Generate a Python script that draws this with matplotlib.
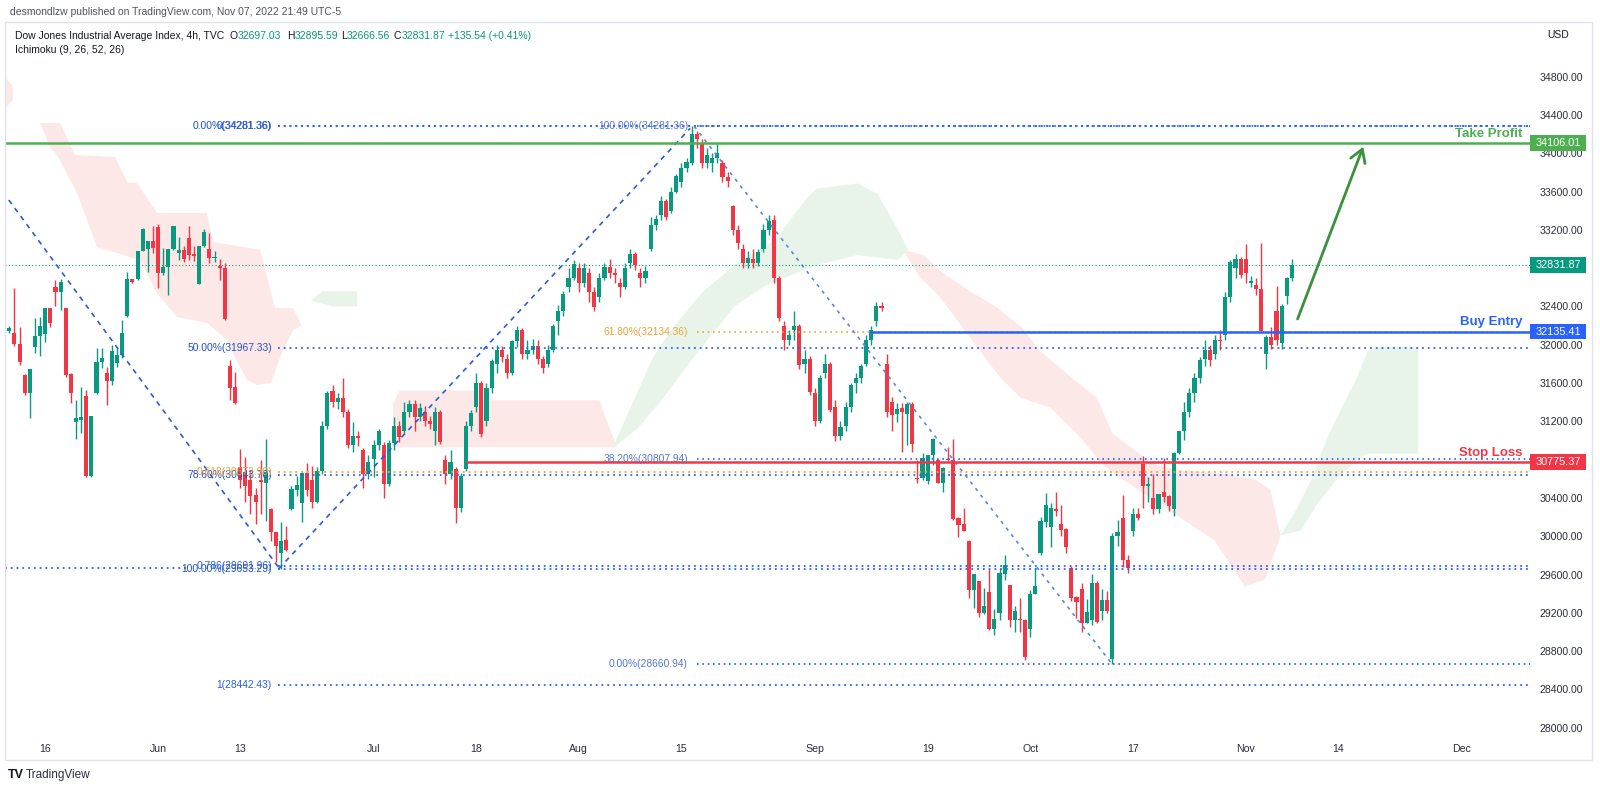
import matplotlib
matplotlib.use("Agg")
import matplotlib.pyplot as plt
from matplotlib.patches import Polygon, Rectangle
from matplotlib.transforms import blended_transform_factory

plt.rcParams['font.family'] = ['Liberation Sans', 'DejaVu Sans']

W, H = 1600, 791

# ---- DJI 4h candles, 10 May - 7 Nov 2022 (two bars per session) ----
opens = [
    32300, 32140, 32120, 32005, 31680, 31500, 31975, 32090, 32115, 32380,
    32605, 32555, 32380, 31695, 31190, 31215, 31465, 30630, 31495, 31820,
    31710, 31625, 31812, 31893, 32300, 32685, 32685, 32975, 32995, 33080,
    33225, 32745, 32815, 32995, 32960, 32990, 33115, 32945, 32635, 33030,
    33000, 32905, 32825, 32800, 31780, 31555, 30725, 30675, 30590, 30430,
    30590, 30555, 30285, 30040, 29820, 29965, 30280, 30485, 30350, 30665,
    30590, 30360, 30680, 31150, 31520, 31400, 31440, 31300, 30950, 31050,
    30900, 30650, 30810, 30950, 30950, 30550, 30970, 31150, 31100, 31300,
    31385, 31250, 31300, 31200, 31100, 31300, 30800, 30650, 30700, 30300,
    30700, 31150, 31350, 31600, 31200, 31550, 31800, 31950, 31850, 31700,
    32036, 32150, 31900, 31950, 31990, 31850, 31800, 31950, 32250, 32350,
    32600, 32700, 32800, 32650, 32750, 32550, 32500, 32700, 32813, 32750,
    32650, 32600, 32850, 32950, 32750, 32700, 33000, 33250, 33350, 33500,
    33400, 33600, 33700, 33850, 33900, 34200, 34100, 33900, 33900, 33950,
    33900, 33750, 33450, 33200, 33000, 32850, 32900, 32850, 33000, 33200,
    33300, 32700, 32200, 32050, 32150, 32200, 31800, 31850, 31500, 31200,
    31700, 31800, 31350, 31050, 31150, 31350, 31600, 31650, 31800, 32050,
    32250, 32400, 31800, 31400, 31280, 31340, 31281, 31385, 30610, 30605,
    30575, 30845, 30800, 30560, 30805, 30800, 30195, 30125, 29955, 29440,
    29530, 29200, 29415, 29030, 29195, 29605, 29490, 29130, 29140, 29130,
    29030, 29400, 29830, 30145, 30095, 30280, 30130, 30080, 29665, 29370,
    29450, 29095, 29120, 29515, 29215, 29330, 28720, 30005, 30195, 29750,
    30055, 30230, 30750, 30525, 30395, 30285, 30465, 30425, 30280, 30870,
    31100, 31300, 31500, 31650, 31850, 31950, 31900, 32050, 32100, 32500,
    32800, 32900, 32900, 32650, 32620, 32580, 31900, 32085, 32355, 32020,
    32505, 32697,
]
highs = [
    32450, 32200, 32590, 32190, 31690, 31750, 32280, 32290, 32385, 32385,
    32680, 32685, 32385, 31700, 31420, 31560, 31530, 31260, 31965, 31965,
    31770, 32000, 31965, 32260, 32765, 32690, 32980, 33215, 33085, 33240,
    33265, 33010, 33000, 33245, 33130, 33030, 33240, 33030, 33035, 33210,
    33170, 32980, 32900, 32850, 31840, 31720, 30910, 30830, 30690, 30500,
    30800, 31015, 30290, 30045, 30145, 30110, 30520, 30630, 30670, 30770,
    30730, 30725, 31200, 31517, 31580, 31500, 31650, 31330, 31190, 31100,
    30920, 30850, 31000, 31120, 30980, 31000, 31250, 31200, 31400, 31420,
    31420, 31390, 31360, 31260, 31350, 31320, 30850, 30900, 30720, 30660,
    31200, 31320, 31700, 31620, 31600, 31850, 32000, 31990, 31900, 32050,
    32200, 32170, 32050, 32060, 32050, 31880, 32000, 32220, 32420, 32560,
    32800, 32880, 32850, 32850, 32800, 32600, 32750, 32850, 32900, 32800,
    32700, 32850, 33000, 32970, 32800, 32820, 33330, 33350, 33550, 33520,
    33650, 33780, 33900, 33950, 34281, 34230, 34150, 34050, 34000, 34100,
    33930, 33800, 33460, 33250, 33050, 32980, 33000, 33000, 33260, 33350,
    33350, 32720, 32250, 32150, 32350, 32220, 31950, 31880, 31550, 31680,
    31900, 31820, 31420, 31200, 31400, 31600, 31700, 31800, 32100, 32200,
    32450, 32450, 31900, 31450, 31390, 31390, 31400, 31400, 30795, 30865,
    30850, 31025, 30805, 30720, 30935, 31020, 30200, 30300, 29960, 29610,
    29535, 29460, 29655, 29235, 29665, 29805, 29495, 29275, 29350, 29135,
    29440, 29665, 30200, 30450, 30345, 30460, 30330, 30090, 29685, 29380,
    29510, 29340, 29605, 29530, 29450, 29425, 30035, 30170, 30430, 29805,
    30300, 30290, 30840, 30620, 30655, 30445, 30815, 30430, 30885, 31100,
    31400, 31550, 31700, 31870, 32050, 32000, 32100, 32150, 32550, 32880,
    32950, 32920, 33050, 32720, 32700, 33065, 32100, 32190, 32615, 32430,
    32705, 32896,
]
lows = [
    31990, 32120, 31990, 31790, 31470, 31230, 31910, 31880, 32030, 32190,
    32400, 32365, 31665, 31395, 31020, 31075, 30620, 30620, 31490, 31755,
    31370, 31580, 31770, 31858, 32295, 32640, 32680, 32975, 32765, 32960,
    32590, 32730, 32520, 32990, 32880, 32860, 32890, 32870, 32630, 33025,
    32855, 32860, 32680, 32260, 31420, 31385, 30500, 30355, 30230, 30130,
    30230, 30160, 29950, 29730, 29653, 29850, 30275, 30425, 30145, 30425,
    30290, 30350, 30650, 31120, 31350, 31330, 31250, 30920, 30880, 30940,
    30500, 30600, 30620, 30900, 30400, 30520, 30900, 30980, 31080, 31250,
    31100, 31200, 31150, 31120, 30950, 30960, 30550, 30600, 30143, 30250,
    30680, 31100, 31300, 31040, 31150, 31500, 31700, 31820, 31650, 31680,
    31980, 31850, 31850, 31900, 31800, 31700, 31770, 31920, 32100, 32300,
    32550, 32680, 32550, 32600, 32450, 32350, 32450, 32680, 32700, 32650,
    32500, 32580, 32800, 32780, 32600, 32650, 32980, 33200, 33300, 33300,
    33380, 33580, 33650, 33800, 33880, 34050, 33850, 33850, 33800, 33900,
    33700, 33650, 33150, 33000, 32800, 32800, 32800, 32820, 32970, 33150,
    32650, 32250, 31950, 32000, 32050, 31750, 31700, 31480, 31150, 31180,
    31650, 31300, 30990, 31000, 31100, 31300, 31500, 31600, 31780, 32000,
    32200, 32350, 31250, 31100, 31190, 30885, 30953, 30885, 30555, 30590,
    30550, 30740, 30555, 30465, 30790, 30170, 29995, 30050, 29350, 29255,
    29155, 29190, 29025, 28970, 29125, 29545, 29055, 28995, 29005, 28710,
    28950, 29400, 29800, 30100, 29890, 30210, 30000, 29825, 29320, 29145,
    29005, 29090, 29075, 29095, 29125, 29200, 28661, 29895, 29680, 29620,
    30005, 30170, 30300, 30360, 30230, 30240, 30360, 30265, 30210, 30860,
    31000, 31250, 31400, 31600, 31780, 31780, 31850, 31950, 32050, 32450,
    32700, 32700, 32650, 32600, 32520, 32140, 31750, 31960, 32000, 31960,
    32425, 32667,
]
closes = [
    32100, 32170, 32010, 31817, 31500, 31745, 32090, 32195, 32380, 32225,
    32555, 32660, 31685, 31500, 31232, 31250, 30630, 31255, 31825, 31860,
    31625, 31930, 31893, 32120, 32685, 32660, 32975, 33210, 33080, 33010,
    32745, 32815, 32995, 33240, 32990, 32895, 32940, 32930, 33030, 33175,
    32905, 32915, 32800, 32265, 31545, 31390, 30590, 30525, 30420, 30360,
    30565, 30675, 30040, 29900, 29955, 29855, 30490, 30535, 30665, 30485,
    30360, 30685, 31150, 31500, 31400, 31440, 31300, 30950, 31050, 31030,
    30650, 30775, 30950, 31100, 30550, 30970, 31150, 31040, 31300, 31385,
    31250, 31340, 31200, 31175, 31300, 30980, 30650, 30772, 30300, 30630,
    31150, 31288, 31600, 31072, 31550, 31827, 31950, 31874, 31700, 32036,
    32150, 31899, 31950, 31990, 31850, 31762, 31950, 32197, 32350, 32529,
    32700, 32845, 32650, 32798, 32550, 32396, 32700, 32813, 32750, 32726,
    32600, 32803, 32950, 32832, 32700, 32774, 33250, 33309, 33500, 33336,
    33600, 33761, 33850, 33912, 34200, 34152, 33900, 33980, 33950, 33999,
    33750, 33706, 33200, 33063, 32850, 32909, 32850, 32969, 33200, 33291,
    32700, 32283, 32050, 32098, 32200, 31790, 31850, 31510, 31200, 31656,
    31800, 31318, 31050, 31145, 31350, 31581, 31650, 31774, 32050, 32151,
    32400, 32381, 31300, 31265, 31330, 31298, 31385, 30963, 30600, 30820,
    30845, 31020, 30560, 30715, 30795, 30175, 30115, 30055, 29440, 29605,
    29200, 29270, 29030, 29140, 29615, 29695, 29130, 29220, 29125, 28735,
    29395, 29480, 30160, 30325, 30290, 30265, 30070, 29890, 29355, 29310,
    29095, 29205, 29515, 29100, 29330, 29215, 30005, 30040, 29750, 29665,
    30230, 30195, 30525, 30545, 30285, 30440, 30415, 30320, 30870, 31095,
    31300, 31500, 31650, 31837, 31950, 31840, 32050, 32034, 32500, 32861,
    32900, 32733, 32750, 32653, 32582, 32148, 32085, 32001, 32050, 32403,
    32695, 32832,
]

# time axis labels (bar index of the first bar of that day)
date_pos = [8, 30, 46, 72, 92, 112, 132, 158, 180, 200, 220, 242, 260, 284]
date_labels = ['16', 'Jun', '13', 'Jul', '18', 'Aug', '15', 'Sep', '19', 'Oct', '17', 'Nov', '14', 'Dec']
price_ticks = [28000, 28400, 28800, 29200, 29600, 30000, 30400, 30800, 31200,
               31600, 32000, 32400, 32800, 33200, 33600, 34000, 34400, 34800]

# Ichimoku cloud outlines (bar, price)
red_cloud_a = [(0.2, 34790), (1.7, 34700), (1.7, 34560), (0.2, 34470)]
red_cloud_b = [(7.0, 34316), (10.9, 34316), (13.8, 33982), (21.6, 33961), (24.1, 33690),
               (25.9, 33690), (29.8, 33376), (39.5, 33376), (40.7, 33073), (49.9, 32990),
               (52.8, 32384), (56.3, 32384), (58.0, 32200), (56.3, 32150), (54.0, 31900),
               (52.0, 31600), (49.3, 31580), (47.3, 31632), (44.6, 31914), (43.4, 32050),
               (39.6, 32227), (33.7, 32290), (29.8, 32540), (26.5, 32885), (18.1, 33021),
               (14.2, 33585), (10.5, 33961), (8.9, 34066)]
green_cloud_a = [(59.8, 32460), (62.0, 32560), (68.8, 32560), (68.8, 32400), (64.0, 32400)]
red_cloud_c = [(75.8, 31380), (77.0, 31521), (92.5, 31521), (93.5, 31420), (116.0, 31420),
               (117.5, 31200), (119.5, 30930), (75.8, 30930)]
green_cloud_b = [(118.5, 30914), (122.5, 31393), (126.5, 31872), (130.5, 32192), (136.4, 32565),
                 (142.4, 32831), (150.3, 33098), (156.3, 33524), (158.3, 33631), (166.3, 33684),
                 (170.2, 33577), (174.2, 33204), (176.2, 32991), (174.2, 32885), (166.3, 32938),
                 (158.3, 32831), (148.4, 32618), (142.4, 32405), (134.4, 31872), (128.5, 31446),
                 (123.5, 31127)]
red_cloud_d = [(175.2, 32991), (179.2, 32938), (182.2, 32778), (188.1, 32565), (193.1, 32405),
               (198.1, 32192), (202.1, 31926), (208.0, 31660), (213.0, 31446), (216.0, 31074),
               (220.0, 30914), (223.9, 30754), (227.9, 30701), (237.9, 30648), (243.8, 30594),
               (246.8, 30488), (248.8, 30008), (245.8, 29550), (241.8, 29476), (239.9, 29635),
               (235.9, 29955), (229.9, 30168), (223.9, 30381), (218.0, 30594), (214.0, 30754),
               (210.0, 31020), (204.0, 31340), (198.1, 31446), (194.1, 31660), (188.1, 32086),
               (182.2, 32512), (178.2, 32725)]
green_cloud_c = [(248.8, 30008), (251.8, 30275), (254.8, 30594), (257.8, 31020), (260.7, 31340),
                 (263.7, 31660), (265.7, 31926), (267.7, 31979), (275.6, 31979), (275.6, 30861),
                 (265.7, 30861), (263.7, 30807), (259.7, 30594), (255.8, 30328), (252.8, 30062)]

# trade levels
take_profit = 34106.01
buy_entry = 32135.41
stop_loss = 30775.37
last_close = 32831.87
buy_start = 168.8
stop_start = 90.0

# fib tools: (level, label)
fib_a = [(34281.36, '0.00%(34281.36)'), (31967.33, '50.00%(31967.33)'),
         (30643.70, '78.60%(30643.70)'), (29653.29, '100.00%(29653.29)')]
fib_b = [(34281.36, '0(34281.36)'), (30672.90, '0.618(30672.90)'),
         (29691.96, '0.786(29691.96)'), (28442.43, '1(28442.43)')]
fib_c = [(34281.36, '100.00%(34281.36)'), (32134.36, '61.80%(32134.36)'),
         (30807.94, '38.20%(30807.94)'), (28660.94, '0.00%(28660.94)')]
fib_ab_start, fib_c_start = 53.4, 135.0
fib_ab_label_x, fib_c_label_x = 52.2, 133.3

# swing trend lines (bar, price)
swing_1 = [(0.9, 33512), (53.4, 29680)]
swing_2 = [(53.5, 29660), (133.7, 34260)]
swing_3 = [(134.5, 34281), (216.0, 28661)]
arrow_from, arrow_to = (252.1, 32269), (264.9, 34069)

UP, DOWN = '#089981', '#f23645'
BLUE, ORANGE, GREEN = '#2962ff', '#f5a623', '#4caf50'
TXT = '#131722'

fig = plt.figure(figsize=(W / 100, H / 100), dpi=100, facecolor='white')


def fx(px):
    return px / W


def fy(py):
    return 1 - py / H


ax = fig.add_axes([fx(5), fy(735), (1530 - 5) / W, (735 - 22) / H])
x_left, x_right = 0.16, 297.4
ax.set_xlim(x_left, x_right)
ax.set_ylim(27924, 35371)
for s in ax.spines.values():
    s.set_visible(False)

# cloud
for poly, col in [(red_cloud_a, '#fde8e8'), (red_cloud_b, '#fde8e8'), (red_cloud_c, '#fde8e8'),
                  (red_cloud_d, '#fde8e8'), (green_cloud_a, '#e8f4ea'), (green_cloud_b, '#e8f4ea'),
                  (green_cloud_c, '#e8f4ea')]:
    ax.add_patch(Polygon(poly, closed=True, fc=col, ec='none', zorder=0))

# candles
idx = list(range(len(closes)))
cols = [UP if c >= o else DOWN for o, c in zip(opens, closes)]
ax.vlines(idx, lows, highs, colors=cols, lw=1.0, zorder=2)
bottoms = [min(o, c) for o, c in zip(opens, closes)]
heights = [max(abs(c - o), 12) for o, c in zip(opens, closes)]
ax.bar(idx, heights, bottom=bottoms, width=0.8, color=cols, lw=0, zorder=2.1)

dots = (0, (1, 2.2))
# fib levels
for lvl, lab in fib_a:
    ax.hlines(lvl, fib_ab_start, x_right, colors=BLUE, lw=1.3, linestyles=dots, zorder=3)
    ax.text(fib_ab_label_x, lvl, lab, ha='right', va='center', fontsize=7.4, color='#2151c8', zorder=5)
for lvl, lab in fib_b:
    c = ORANGE if lab.startswith('0.618') else BLUE
    ax.hlines(lvl, fib_ab_start, x_right, colors=c, lw=1.3, linestyles=dots, zorder=3)
    ax.text(fib_ab_label_x, lvl, lab, ha='right', va='center', fontsize=7.4,
            color=('#e9a53a' if c == ORANGE else '#2d5fd8'), zorder=5)
for lvl, lab in fib_c:
    c = ORANGE if lab.startswith('61') else BLUE
    ax.hlines(lvl, fib_c_start, x_right, colors=c, lw=1.2, linestyles=dots, zorder=3)
    ax.text(fib_c_label_x, lvl, lab, ha='right', va='center', fontsize=7.4,
            color=('#eba33a' if c == ORANGE else '#5677c9'), zorder=5)
ax.hlines(29672, x_left, 35.6, colors=BLUE, lw=1.3, linestyles=dots, zorder=3)

# swing lines
for seg, col, ls in [(swing_1, '#2a5bd7', (0, (3, 3))), (swing_2, '#2a5bd7', (0, (3, 3))),
                     (swing_3, '#5b86e0', (0, (2, 3)))]:
    ax.plot([p[0] for p in seg], [p[1] for p in seg], color=col, lw=1.2, ls=ls, zorder=3)

# trade lines
ax.axhline(last_close, color=UP, lw=0.8, ls=(0, (1, 2)), zorder=3)
ax.axhline(take_profit, color=GREEN, lw=1.8, zorder=4)
ax.hlines(buy_entry, buy_start, x_right, colors=BLUE, lw=1.8, zorder=4)
ax.hlines(stop_loss, stop_start, x_right, colors='#f23645', lw=1.8, zorder=4)
for lvl, lab, col in [(take_profit, 'Take Profit', GREEN), (buy_entry, 'Buy Entry', BLUE),
                      (stop_loss, 'Stop Loss', '#f23645')]:
    ax.annotate(lab, (295.9, lvl), xytext=(0, 2.5), textcoords='offset points', ha='right',
                va='bottom', fontsize=9.5, fontweight='bold', color=col, zorder=6)

ax.annotate('', xy=arrow_to, xytext=arrow_from,
            arrowprops=dict(arrowstyle='->,head_length=0.9,head_width=0.55', color='#3a913e',
                            lw=2.0, shrinkA=0, shrinkB=0), zorder=6)

# axes ticks
ax.yaxis.tick_right()
ax.set_yticks(price_ticks)
ax.set_yticklabels([f'{v:.2f}' for v in price_ticks])
ax.tick_params(axis='y', length=0, pad=7, labelsize=7.6, labelcolor='#2a2e39')
ax.set_xticks(date_pos)
ax.set_xticklabels(date_labels)
ax.tick_params(axis='x', length=0, pad=6.5, labelsize=7.6, labelcolor='#2a2e39')

# price boxes on the right scale
bt = blended_transform_factory(ax.transAxes, ax.transData)
box_w = 56 / 1525
for lvl, col in [(take_profit, GREEN), (last_close, UP), (buy_entry, BLUE), (stop_loss, '#f23645')]:
    ax.add_patch(Rectangle((1.0, lvl - 80), box_w, 160, transform=bt, fc=col, ec='none',
                           clip_on=False, zorder=7))
    ax.text(1.0 + box_w / 2, lvl, f'{lvl:.2f}', transform=bt, ha='center', va='center',
            fontsize=7.8, color='white', zorder=8, clip_on=False)

# frame and header
fig.patches.append(Rectangle((fx(5), fy(760)), (1592 - 5) / W, (760 - 22) / H,
                             transform=fig.transFigure, fill=False, ec='#e0e3eb', lw=1))
fig.text(fx(10), fy(12), 'desmondlzw published on TradingView.com, Nov 07, 2022 21:49 UTC-5',
         fontsize=7.5, color='#50535e', va='center')
fig.text(fx(15), fy(36), 'Dow Jones Industrial Average Index, 4h, TVC', fontsize=7.5, color=TXT, va='center')
ohlc_parts = [(230, 'O', '32697.03'), (287, 'H', '32895.59'), (341, 'L', '32666.56'), (394, 'C', '32831.87')]
for px, letter, val in ohlc_parts:
    fig.text(fx(px), fy(36), letter, fontsize=7.5, color=TXT, va='center')
    fig.text(fx(px + (6 if letter == 'L' else 7.5)), fy(36), val, fontsize=7.5, color=UP, va='center')
fig.text(fx(448), fy(36), '+135.54 (+0.41%)', fontsize=7.5, color=UP, va='center')
fig.text(fx(15), fy(50), 'Ichimoku (9, 26, 52, 26)', fontsize=7.5, color=TXT, va='center')
fig.text(fx(1547), fy(35), 'USD', fontsize=7.5, color=TXT, va='center')
fig.text(fx(8), fy(775), 'TV', fontsize=9, fontweight='heavy', color=TXT, va='center')
fig.text(fx(26), fy(775), 'TradingView', fontsize=8.5, color='#2a2e39', va='center')

fig.savefig('out.png', dpi=100, facecolor='white')
